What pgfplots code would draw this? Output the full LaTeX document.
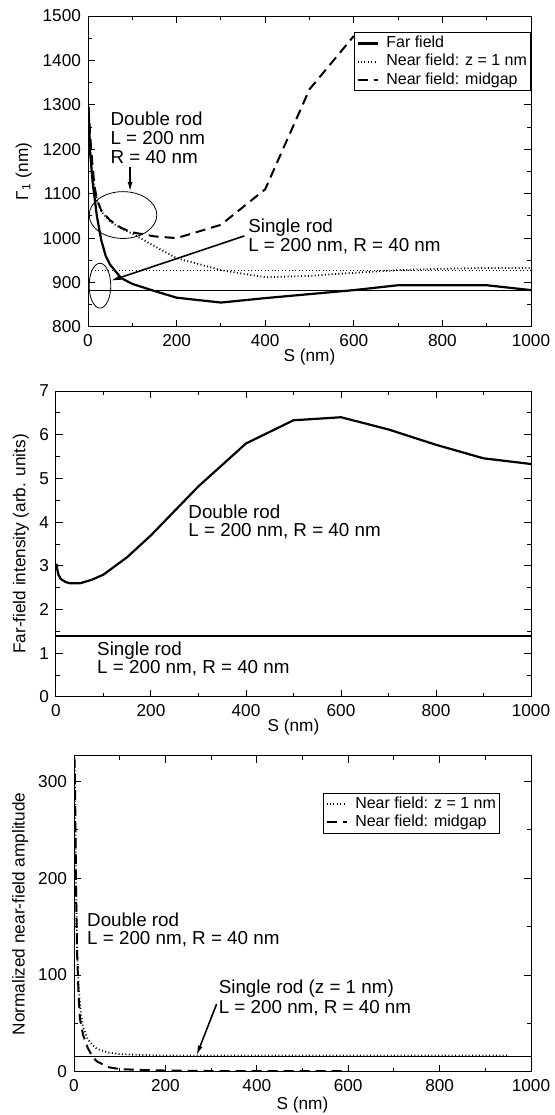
\documentclass[border=0pt]{standalone}
\usepackage{fontspec}
\setmainfont{Liberation Sans}
\usepackage{pgfplots}
\pgfplotsset{compat=1.18}
\usetikzlibrary{arrows.meta}
\newcommand{\fs}{\fontsize{8.6}{9.6}\selectfont}
\newcommand{\fa}{\fontsize{9.4}{10.4}\selectfont}
\newcommand{\fl}{\fontsize{8}{9}\selectfont}
\tikzset{
  ff/.style={black, line width=1.1pt},
  nz/.style={black, line width=0.9pt, dash pattern=on 0.5pt off 1.2pt},
  nm/.style={black, line width=1.0pt, dash pattern=on 5pt off 3pt},
  ann/.style={anchor=base west, inner sep=0pt, font=\fa},
  arr/.style={-{Latex[length=5pt,width=2.5pt]}, line width=0.8pt},
}
\pgfplotsset{
  panel/.style={
    scale only axis,
    anchor=south west,
    xmin=0, xmax=1000,
    xtick distance=200,
    minor x tick num=1,
    tick align=inside,
    major tick length=3.5pt,
    minor tick length=2pt,
    tick style={black, line width=0.5pt},
    axis line style={line width=0.5pt},
    tick label style={font=\fs},
    label style={font=\fs},
    /pgf/number format/assume math mode=true,
    /pgf/number format/1000 sep={},
    legend cell align=left,
    legend style={font=\fl, draw=black, fill=white, inner xsep=1pt, inner ysep=0.8pt, row sep=0pt,
      nodes={inner sep=0.8pt, text height=5.8pt, text depth=1.7pt}},
    legend image code/.code={\draw[#1] (0.5pt,0pt) -- (10.5pt,0pt); \path (13.5pt,0pt);},
  },
}
\begin{document}
\begin{tikzpicture}
\useasboundingbox (0,0) rectangle (277.5pt,557.5pt);
% ---------------- top panel ----------------
\begin{axis}[panel, at={(44pt,394pt)}, width=221.5pt, height=155.5pt,
  ymin=800, ymax=1500, ytick distance=100, minor y tick num=1,
  xlabel={S (nm)}, ylabel={Γ\textsubscript{1} (nm)},
  xlabel style={at={(axis description cs:0.5,-0.096)}, anchor=center},
  ylabel style={at={(axis description cs:-0.145,0.5)}, anchor=center},
  legend style={at={(rel axis cs:1,0.947)}, anchor=north east},
]
\addplot[ff] coordinates {(1,1296) (5,1190) (10,1130) (15,1090) (20,1050) (30,995) (40,960) (50,940) (75,910) (100,897) (150,881) (200,866) (300,855) (400,865) (500,874) (600,883) (700,894) (800,894) (900,894) (1000,883)};
\addlegendentry{Far field}
\addplot[nz] coordinates {(1,1290) (5,1200) (10,1140) (20,1085) (30,1060) (50,1037) (75,1022) (100,1010) (150,982) (200,955) (300,928) (400,912) (500,915) (600,922) (700,928) (800,931) (900,933) (1000,933)};
\addlegendentry{Near field: z = 1 nm}
\addplot[nm] coordinates {(1,1295) (5,1230) (10,1165) (15,1115) (20,1088) (30,1062) (50,1040) (75,1023) (100,1013) (150,1004) (200,1000) (300,1030) (400,1110) (500,1335) (600,1455)};
\addlegendentry{Near field: midgap}
\addplot[black, line width=0.5pt, forget plot] coordinates {(0,882) (1000,882)};
\addplot[nz, line width=0.7pt, forget plot] coordinates {(0,927) (1000,927)};
\node[ann] at (axis cs:50,1253) {Double rod};
\node[ann] at (axis cs:50,1210) {L = 200 nm};
\node[ann] at (axis cs:50,1169) {R = 40 nm};
\draw[line width=0.4pt] (axis cs:79,1052) ellipse [x radius=16.9pt, y radius=11.7pt];
\draw[line width=0.4pt] (axis cs:27,893) ellipse [x radius=5.4pt, y radius=11.2pt];
\draw[arr] (axis cs:95,1160) -- (axis cs:95,1104);
\node[ann] at (axis cs:361,1013) {Single rod};
\node[ann] at (axis cs:361,971) {L = 200 nm, R = 40 nm};
\draw[arr] (axis cs:353,1005) -- (axis cs:51,904);
\end{axis}
% ---------------- middle panel ----------------
\begin{axis}[panel, at={(28pt,209pt)}, width=237.5pt, height=153pt,
  ymin=0, ymax=7, ytick distance=1, minor y tick num=1,
  xlabel={S (nm)}, ylabel={Far-field intensity (arb. units)},
  xlabel style={at={(axis description cs:0.5,-0.098)}, anchor=center},
  ylabel style={at={(axis description cs:-0.074,0.5)}, anchor=center},
]
\addplot[ff] coordinates {(1,3.05) (3,2.9) (5,2.8) (10,2.7) (20,2.63) (30,2.6) (50,2.6) (75,2.68) (100,2.8) (150,3.2) (200,3.7) (300,4.82) (400,5.8) (500,6.33) (600,6.4) (700,6.12) (800,5.77) (900,5.46) (1000,5.33)};
\addplot[ff] coordinates {(0,1.4) (1000,1.4)};
\node[ann] at (axis cs:278,4.09) {Double rod};
\node[ann] at (axis cs:278,3.68) {L = 200 nm, R = 40 nm};
\node[ann] at (axis cs:86,0.955) {Single rod};
\node[ann] at (axis cs:86,0.53) {L = 200 nm, R = 40 nm};
\end{axis}
% ---------------- bottom panel ----------------
\begin{axis}[panel, at={(37pt,21.5pt)}, width=228.5pt, height=158pt,
  ymin=0, ymax=326, ytick={0,100,200,300}, minor ytick={50,150,250},
  xlabel={S (nm)}, ylabel={Normalized near-field amplitude},
  xlabel style={at={(axis description cs:0.5,-0.104)}, anchor=center},
  ylabel style={at={(axis description cs:-0.118,0.5)}, anchor=center},
  legend style={at={(rel axis cs:0.932,0.883)}, anchor=north east},
]
\addplot[nz] coordinates {(1,322) (2,290) (3,250) (4,210) (5,175) (7,125) (10,88) (15,60) (20,46) (30,34) (40,28) (50,24) (75,20) (100,18.5) (150,17.5) (200,17) (300,17) (400,17) (500,17) (600,17) (700,17) (800,17) (900,17) (950,17)};
\addlegendentry{Near field: z = 1 nm}
\addplot[nm] coordinates {(1,324) (2,300) (3,260) (4,215) (5,170) (7,120) (10,80) (13,55) (20,38) (30,25) (40,16) (50,11) (75,5) (100,3) (150,2) (200,1.5) (300,1) (400,1) (500,1) (600,1)};
\addlegendentry{Near field: midgap}
\addplot[black, line width=0.5pt, forget plot] coordinates {(0,16) (1000,16)};
\node[ann] at (axis cs:28,150) {Double rod};
\node[ann] at (axis cs:28,132) {L = 200 nm, R = 40 nm};
\node[ann] at (axis cs:316,80.5) {Single rod (z = 1 nm)};
\node[ann] at (axis cs:316,60.5) {L = 200 nm, R = 40 nm};
\draw[arr] (axis cs:312,70) -- (axis cs:268,17);
\end{axis}
\end{tikzpicture}
\end{document}
